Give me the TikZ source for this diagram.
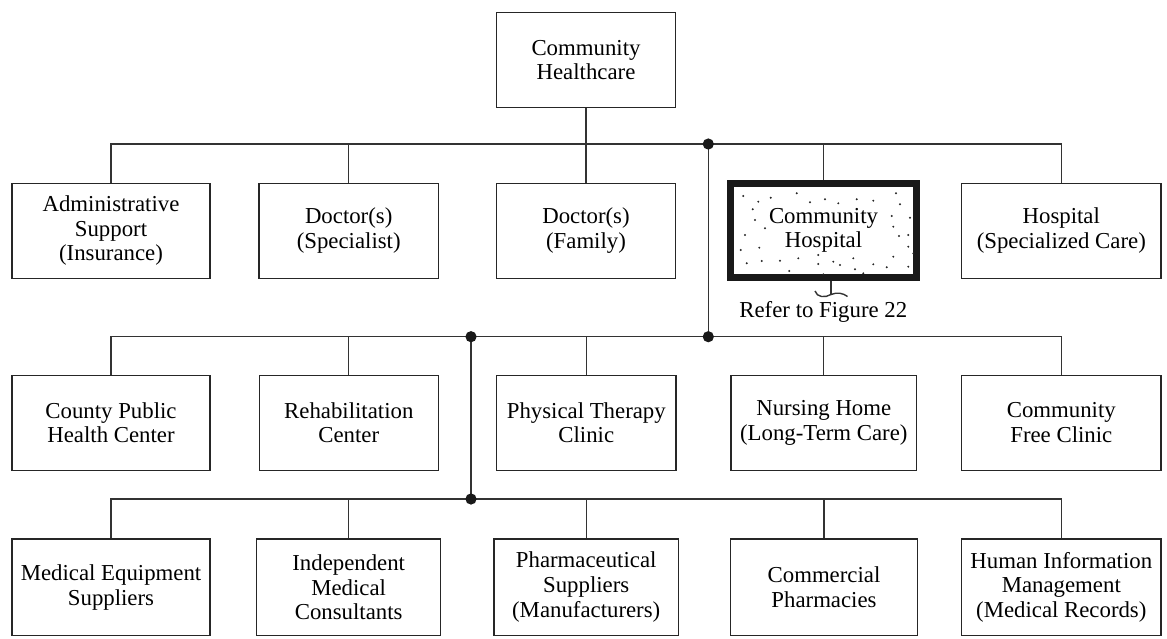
\documentclass[tikz,border=0pt]{standalone}
\usepackage{fontspec}
\setmainfont{Liberation Serif}
\begin{document}
\begin{tikzpicture}[x=1pt,y=-1pt,
  unit/.style={draw=black!85, line width=1.2pt, rectangle, inner sep=0pt,
    align=center, font=\fontsize{22.8}{24.7}\selectfont},
  focus/.style={unit, draw=black!90, line width=6.7pt},
  wire/.style={draw=black!80, line width=1.2pt},
  jdot/.style={fill=black!90},
  speck/.style={fill=black!85},
  lbl/.style={inner sep=0pt, font=\fontsize{22.8}{24.7}\selectfont}]
\useasboundingbox (0,0) rectangle (1167,638);

% root
\node[unit, minimum width=178.6pt, minimum height=95pt] (top) at (586,60.2) {Community\\Healthcare};

% first tier
\node[unit, minimum width=198pt, minimum height=95pt] (a1) at (111,230.8) {Administrative\\Support\\(Insurance)};
\node[unit, minimum width=179.3pt, minimum height=95pt] (a2) at (348.7,230.8) {Doctor(s)\\(Specialist)};
\node[unit, minimum width=178.6pt, minimum height=95pt] (a3) at (586,230.8) {Doctor(s)\\(Family)};
\node[focus, minimum width=186.4pt, minimum height=94pt] (a4) at (823.5,230.3) {Community\\Hospital};
\node[unit, minimum width=199.3pt, minimum height=95pt] (a5) at (1061.3,230.8) {Hospital\\(Specialized Care)};

% second tier
\node[unit, minimum width=198pt, minimum height=95pt] (b1) at (111,422.7) {County Public\\Health Center};
\node[unit, minimum width=179pt, minimum height=95pt] (b2) at (348.8,422.7) {Rehabilitation\\Center};
\node[unit, minimum width=179.3pt, minimum height=95pt] (b3) at (586.3,422.7) {Physical Therapy\\Clinic};
\node[unit, minimum width=185.7pt, minimum height=95pt] (b4) at (823.8,422.7) {Nursing Home\\(Long-Term Care)};
\node[unit, minimum width=199.3pt, minimum height=95pt] (b5) at (1061.3,422.7) {Community\\Free Clinic};

% third tier
\node[unit, minimum width=198pt, minimum height=96.5pt] (d1) at (111,587.2) {Medical Equipment\\Suppliers};
\node[unit, minimum width=184pt, minimum height=96.5pt] (d2) at (348.7,587.2) {Independent\\Medical\\Consultants};
\node[unit, minimum width=184.3pt, minimum height=96.5pt] (d3) at (586.2,587.2) {Pharmaceutical\\Suppliers\\(Manufacturers)};
\node[unit, minimum width=186.6pt, minimum height=96.5pt] (d4) at (824,587.2) {Commercial\\Pharmacies};
\node[unit, minimum width=199.3pt, minimum height=96.5pt] (d5) at (1061.3,587.2) {Human Information\\Management\\(Medical Records)};

% bus levels and junctions
\coordinate (bus1) at (0,144);
\coordinate (bus2) at (0,336.7);
\coordinate (bus3) at (0,499);
\coordinate (j1) at (708.3,144);
\coordinate (j2) at (708.3,336.7);
\coordinate (j3) at (471,336.7);
\coordinate (j4) at (471,499);

% first bus
\draw[wire] (top) -- (a3);
\draw[wire] (a1.north) -- (a1.north |- bus1) -- (a5.north |- bus1) -- (a5.north);
\draw[wire] (a2.north |- bus1) -- (a2.north);
\draw[wire] (a4.north |- bus1) -- (a4.north);

% second bus
\draw[wire] (b1.north) -- (b1.north |- bus2) -- (b5.north |- bus2) -- (b5.north);
\draw[wire] (b2.north |- bus2) -- (b2.north);
\draw[wire] (b3.north |- bus2) -- (b3.north);
\draw[wire] (b4.north |- bus2) -- (b4.north);

% third bus
\draw[wire] (d1.north) -- (d1.north |- bus3) -- (d5.north |- bus3) -- (d5.north);
\draw[wire] (d2.north |- bus3) -- (d2.north);
\draw[wire] (d3.north |- bus3) -- (d3.north);
\draw[wire] (d4.north |- bus3) -- (d4.north);

% risers between buses
\draw[wire] (j1) -- (j2);
\draw[wire] (j3) -- (j4);
\foreach \j in {j1,j2,j3,j4} \fill[jdot] (\j) circle (5.6pt);

% stippled fill of the highlighted unit
\foreach \p in {(743.3,196),(758.3,201.7),(770.7,197.7),(796.7,193.3),(810,202.3),
  (825,199.3),(838.3,203.3),(856.7,199.3),(873.3,200.7),(896,193.3),(900,204.3),
  (752.7,209.3),(755,220),(765,228.3),(891.7,216),(910,217.7),(893.3,226.7),
  (899,236),(908.3,235),(745,235),(759.3,247.7),(740.7,250),(908.3,246.7),
  (913.3,253.3),(746.7,263.3),(761.7,261),(780,260.7),(798.3,258.3),(818.3,255),
  (833.3,261.7),(853.3,258.3),(873.3,264.3),(893.3,256.7),(908.3,266.7),
  (789.3,271),(823.3,274.3),(840,265),(855,269.3),(863.3,273.3),(886.7,267.3),
  (818.3,264)}
  \fill[speck] \p circle (1.1pt);

% reference tag below the highlighted unit
\coordinate (tag) at (831,294.5);
\draw[wire, line width=1.3pt] (a4.south -| tag) -- (tag);
\draw[wire, line width=1.4pt] (815,291) .. controls (817,297.5) and (825,298) .. (tag)
  .. controls (837,292) and (843,293) .. (847.5,296.5);
\node[lbl] (ref) at (823.3,311.5) {Refer to Figure 22};
\end{tikzpicture}
\end{document}
